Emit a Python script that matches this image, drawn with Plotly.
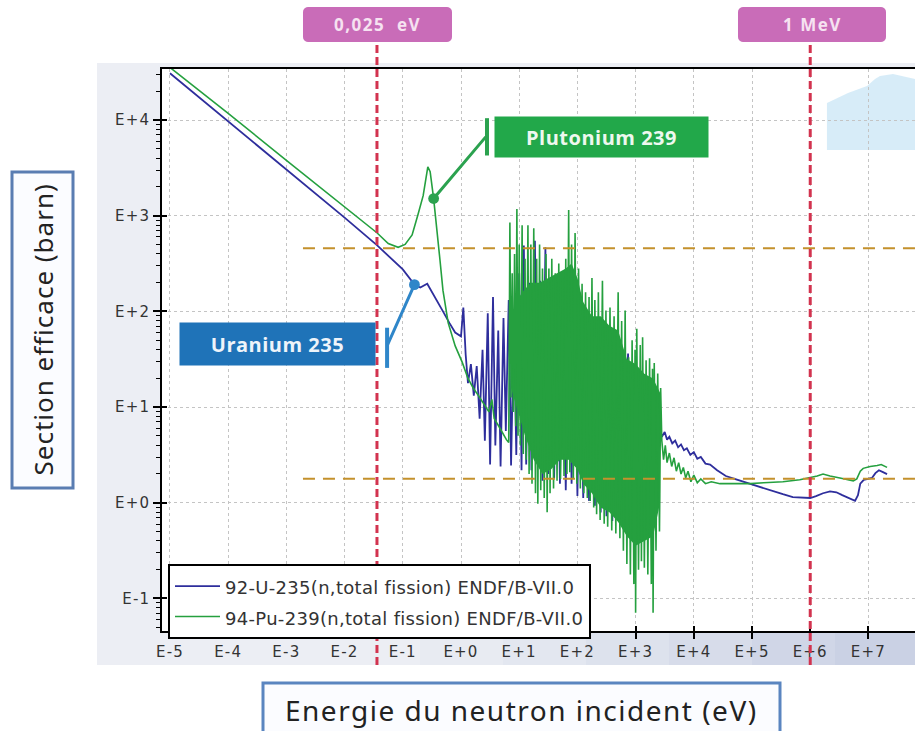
import numpy as np
import plotly.graph_objects as go

# ---------------- data (log10 E [eV], log10 sigma [barn]) ----------------
u235_logE = [-5.0, -4.0, -3.0, -2.0, -1.44, -1.0, -0.8, -0.7, -0.58, -0.5, -0.4, -0.3, -0.2, -0.1, 0.0,
             0.04, 0.08, 0.12, 0.17, 0.22, 0.27, 0.32, 0.37, 0.41, 0.46, 0.50, 0.55, 0.59, 0.64, 0.68,
             0.73, 0.77, 0.82, 0.86, 0.91, 0.95, 1.00, 1.04, 1.08, 1.12, 1.17, 1.21, 1.27, 1.31, 1.36,
             1.40, 1.45, 1.50, 1.55, 1.60, 1.65, 1.70, 1.75, 1.80, 1.85, 1.90, 1.95, 2.00, 2.05, 2.10,
             2.15, 2.20, 2.25, 2.30, 2.35, 2.40, 2.45, 2.50, 2.55, 2.60, 2.65, 2.70, 2.75, 2.80, 2.87,
             2.93, 3.00, 3.05, 3.12, 3.18, 3.25, 3.32, 3.38,
             3.42, 3.46, 3.50, 3.54, 3.58, 3.63, 3.68, 3.73, 3.78, 3.83, 3.88, 3.94, 4.00, 4.06, 4.12,
             4.20, 4.28, 4.40, 4.55, 4.70, 4.85, 4.97, 5.10, 5.26, 5.40, 5.53, 5.70, 5.88, 6.00, 6.10,
             6.22, 6.34, 6.45, 6.55, 6.68, 6.77, 6.82, 6.86, 6.92, 7.00, 7.06, 7.12, 7.18, 7.25, 7.32]
u235_logS = [4.49, 3.99, 3.48, 2.98, 2.69, 2.44, 2.28, 2.25, 2.29, 2.20, 2.09, 1.99, 1.88, 1.78, 1.74,
             2.04, 1.55, 1.25, 1.45, 1.12, 1.43, 0.88, 1.60, 0.65, 1.98, 0.40, 2.15, 0.60, 1.80, 0.38,
             1.93, 0.75, 2.12, 0.39, 1.90, 0.50, 2.40, 0.34, 2.69, 0.40, 2.30, 0.34, 2.74, 0.54, 2.32,
             0.23, 2.67, 0.30, 2.17, 0.25, 2.27, 0.20, 2.06, 0.13, 2.10, 0.20, 2.01, 0.07, 1.91, 0.05,
             1.80, 0.02, 1.70, -0.03, 1.64, -0.10, 1.60, -0.14, 1.54, -0.19, 1.50, -0.10, 1.47, 0.00, 1.56,
             0.10, 1.40, 0.40, 1.20, 0.60, 1.00, 0.78, 0.80,
             0.73, 0.70, 0.74, 0.66, 0.69, 0.62, 0.65, 0.58, 0.61, 0.55, 0.57, 0.50, 0.53, 0.46, 0.48,
             0.41, 0.40, 0.34, 0.28, 0.25, 0.22, 0.20, 0.17, 0.14, 0.11, 0.09, 0.06, 0.05, 0.05, 0.07,
             0.10, 0.12, 0.11, 0.08, 0.04, 0.02, 0.08, 0.20, 0.24, 0.25, 0.26, 0.31, 0.34, 0.32, 0.30]

pu239_logE = [-5.0, -4.0, -3.0, -2.0, -1.44, -1.25, -1.08, -0.96, -0.84, -0.74, -0.65, -0.57, -0.53,
              -0.47, -0.41, -0.36, -0.31, -0.22, -0.10, 0.02, 0.12, 0.21, 0.30, 0.40, 0.48, 0.53, 0.57,
              0.65, 0.72, 0.78, 0.82,
              0.84, 0.86, 0.88, 0.90, 0.92, 0.94, 0.96, 0.98, 1.00, 1.02, 1.05, 1.07, 1.10, 1.12, 1.15,
              1.17, 1.20, 1.22, 1.25, 1.28, 1.30, 1.32, 1.35, 1.37, 1.40, 1.43, 1.46, 1.48, 1.51, 1.53,
              1.56, 1.59, 1.62, 1.65, 1.68, 1.71, 1.74, 1.77, 1.80, 1.82, 1.85, 1.87, 1.90, 1.93, 1.96,
              1.99, 2.02, 2.05, 2.08, 2.11, 2.14, 2.17, 2.20, 2.22, 2.25, 2.28, 2.30, 2.33, 2.36, 2.39,
              2.43, 2.46, 2.49, 2.52, 2.56, 2.59, 2.63, 2.66, 2.70, 2.73, 2.76, 2.79, 2.82, 2.85, 2.88,
              2.91, 2.94, 2.97, 2.99, 3.00, 3.02, 3.05, 3.08, 3.10, 3.12, 3.15, 3.18, 3.21, 3.24, 3.27,
              3.29, 3.30, 3.32, 3.35, 3.38, 3.41, 3.43,
              3.45, 3.48, 3.51, 3.54, 3.58, 3.62, 3.66, 3.70, 3.74, 3.78, 3.82, 3.86, 3.90, 3.95, 4.00,
              4.06, 4.12, 4.20, 4.30, 4.45, 4.60, 4.80, 4.97, 5.20, 5.53, 5.82, 6.00, 6.12, 6.22, 6.34,
              6.51, 6.65, 6.74, 6.80, 6.86, 6.91, 7.03, 7.15, 7.22, 7.32]
pu239_logS = [4.55, 4.07, 3.58, 3.09, 2.82, 2.71, 2.67, 2.70, 2.80, 3.01, 3.21, 3.51, 3.46,
              3.18, 2.85, 2.53, 2.22, 1.88, 1.64, 1.47, 1.30, 1.20, 1.12, 1.02, 0.95, 1.08, 0.88,
              0.80, 0.72, 0.66, 0.63,
              2.93, 1.10, 2.40, 0.95, 2.60, 0.80, 3.07, 0.70, 2.70, 0.60, 2.90, 0.51, 2.55, 0.45, 2.90,
              0.30, 2.70, 0.20, 2.87, 0.10, 2.55, -0.01, 2.70, 0.13, 2.45, 0.05, 2.60, -0.10, 2.45, 0.10,
              2.55, 0.15, 2.40, 0.23, 2.50, 0.25, 2.35, 0.28, 2.55, 0.30, 3.06, 0.32, 2.70, 0.25, 2.82,
              0.20, 2.45, 0.15, 2.29, 0.10, 2.20, 0.05, 2.15, 0.02, 2.35, -0.05, 2.12, -0.12, 2.20, -0.18,
              2.32, -0.22, 2.01, -0.25, 2.04, -0.29, 1.95, -0.32, 2.20, -0.37, 1.90, -0.50, 2.01, -0.64, 1.52,
              -0.75, 1.70, -0.85, 1.60, -1.15, 1.82, -0.70, 1.65, -0.61, 1.73, -0.68, 1.49, -0.75, 1.51, -0.85,
              1.40, -1.15, 1.46, -0.50, 1.35, -0.30, 1.20,
              0.65, 0.45, 0.60, 0.42, 0.52, 0.38, 0.47, 0.33, 0.42, 0.30, 0.37, 0.26, 0.33, 0.22, 0.29,
              0.21, 0.25, 0.20, 0.22, 0.20, 0.20, 0.20, 0.20, 0.21, 0.22, 0.24, 0.26, 0.28, 0.30, 0.28,
              0.26, 0.24, 0.23, 0.25, 0.33, 0.36, 0.38, 0.39, 0.40, 0.37]

# dense body of the Pu-239 resonance region: top edge then bottom edge
pu_body_logE = [0.86, 0.95, 1.05, 1.20, 1.35, 1.50, 1.65, 1.80, 1.90, 2.00, 2.10, 2.25, 2.40, 2.55,
                2.70, 2.85, 3.00, 3.15, 3.30, 3.42,
                3.42, 3.30, 3.15, 3.00, 2.85, 2.70, 2.55, 2.40, 2.25, 2.10, 2.00, 1.85, 1.70, 1.55,
                1.40, 1.25, 1.10, 0.95, 0.86]
pu_body_logS = [1.60, 2.10, 2.20, 2.30, 2.30, 2.35, 2.40, 2.45, 2.50, 2.35, 2.10, 1.95, 1.95, 1.85,
                1.80, 1.50, 1.45, 1.35, 1.30, 1.15,
                0.00, -0.35, -0.40, -0.45, -0.35, -0.20, -0.10, -0.05, 0.10, 0.20, 0.35, 0.45, 0.45, 0.35,
                0.30, 0.45, 0.70, 1.00, 1.20]

x_tick_exp = list(range(-5, 8))
y_tick_exp = list(range(-1, 5))
x_tick_text = ["E%+d" % e for e in x_tick_exp]
y_tick_text = ["E%+d" % e for e in y_tick_exp]

ref_energies = [0.036, 1.0e6]          # vertical markers (as drawn)
ref_labels = ["0,025&nbsp; eV", "1 MeV"]
ref_sigmas = [457.0, 1.78]             # horizontal dashed guides
U_NAME = "92-U-235(n,total fission) ENDF/B-VII.0"
PU_NAME = "94-Pu-239(n,total fission) ENDF/B-VII.0"

# ---------------- figure ----------------
W, H = 915, 731
ML, MR, MT, MB = 162, 0, 69, 100
PW, PH = W - ML - MR, H - MT - MB
XR = [-5.137, 7.80]
YR = [-1.34, 4.534]


def pxx(p):
    return (p - ML) / PW


def pxy(p):
    return (H - MB - p) / PH


def spaced(t, ls=1.2):
    return '<span style="letter-spacing:%spx">%s</span>' % (ls, t)


def rounded_rect(x0, y0, x1, y1, r):
    pts = []
    n = 5
    corners = [(x1 - r, y0 + r, -90, 0), (x1 - r, y1 - r, 0, 90),
               (x0 + r, y1 - r, 90, 180), (x0 + r, y0 + r, 180, 270)]
    for cx, cy, a0, a1 in corners:
        for k in range(n + 1):
            a = np.radians(a0 + (a1 - a0) * k / n)
            pts.append((cx + r * np.cos(a), cy + r * np.sin(a)))
    return "M " + " L ".join("%.5f,%.5f" % (pxx(a), pxy(b)) for a, b in pts) + " Z"


legend_name = '<span style="font-size:18px;letter-spacing:0.3px">%s</span>'

fig = go.Figure()
fig.add_trace(go.Scatter(
    x=10 ** np.array(u235_logE), y=10 ** np.array(u235_logS), mode="lines",
    line=dict(color="#2e2e9c", width=1.8), name=legend_name % U_NAME))
fig.add_trace(go.Scatter(
    x=10 ** np.array(pu_body_logE), y=10 ** np.array(pu_body_logS), mode="lines",
    fill="toself", fillcolor="#25a03f", line=dict(width=0, color="#25a03f"),
    showlegend=False, hoverinfo="skip"))
fig.add_trace(go.Scatter(
    x=10 ** np.array(pu239_logE), y=10 ** np.array(pu239_logS), mode="lines",
    line=dict(color="#25a03f", width=1.6), name=legend_name % PU_NAME))
# overlay axes carry the inward half of the ticks
fig.add_trace(go.Scatter(x=[], y=[], xaxis="x2", yaxis="y2", showlegend=False))

tickfont = dict(family="DejaVu Sans", size=15, color="#333333")
fig.update_layout(
    width=W, height=H,
    margin=dict(l=ML, r=MR, t=MT, b=MB),
    paper_bgcolor="white", plot_bgcolor="rgba(0,0,0,0)",
    showlegend=True,
    legend=dict(x=pxx(168), y=pxy(564), xanchor="left", yanchor="top",
                bgcolor="white", bordercolor="black", borderwidth=2,
                font=dict(family="DejaVu Sans", size=21, color="#333333"),
                itemwidth=45),
    xaxis=dict(type="log", range=XR, tickmode="array",
               tickvals=[10.0 ** e for e in x_tick_exp], ticktext=[spaced(t) for t in x_tick_text],
               ticks="outside", ticklen=6, tickwidth=1.5, tickcolor="black",
               showline=True, linecolor="black", linewidth=1.5, mirror=True,
               showgrid=True, gridcolor="#c4c4c4", griddash="dot", gridwidth=1,
               zeroline=False, tickfont=tickfont),
    yaxis=dict(type="log", range=YR, tickmode="array",
               tickvals=[10.0 ** e for e in y_tick_exp], ticktext=[spaced(t) for t in y_tick_text],
               ticks="outside", ticklen=7, tickwidth=1.5, tickcolor="black",
               showline=True, linecolor="black", linewidth=1.5, mirror=False,
               showgrid=True, gridcolor="#c4c4c4", griddash="dot", gridwidth=1,
               zeroline=False, tickfont=tickfont,
               minor=dict(tickmode="array",
                          tickvals=[m * 10.0 ** e for e in range(-2, 5) for m in range(2, 10)],
                          ticks="outside", ticklen=4, tickwidth=1.2, tickcolor="black",
                          showgrid=False)),
    xaxis2=dict(type="log", range=XR, overlaying="x", anchor="y", side="bottom",
                tickmode="array", tickvals=[10.0 ** e for e in x_tick_exp],
                ticks="inside", ticklen=5, tickwidth=1.5, tickcolor="black",
                showticklabels=False, showgrid=False, showline=False, zeroline=False),
    yaxis2=dict(type="log", range=YR, overlaying="y", anchor="x", side="left",
                tickmode="array", tickvals=[10.0 ** e for e in y_tick_exp],
                ticks="inside", ticklen=5, tickwidth=1.5, tickcolor="black",
                showticklabels=False, showgrid=False, showline=False, zeroline=False),
)

shapes = []
# light panel behind the chart
shapes.append(dict(type="rect", xref="paper", yref="paper", x0=pxx(97), x1=pxx(915),
                   y0=pxy(665), y1=pxy(63), fillcolor="#eceef4", line=dict(width=0), layer="below"))
band_cols = ["#e8ebf2", "#e3e7f0", "#dde2ed", "#d7dcea", "#d0d6e7", "#cad1e4"]
for i, c in enumerate(band_cols):
    x0 = 420 + i * 83
    shapes.append(dict(type="rect", xref="paper", yref="paper", x0=pxx(x0), x1=pxx(min(x0 + 83, 915)),
                       y0=pxy(665), y1=pxy(631), fillcolor=c, line=dict(width=0), layer="below"))
shapes.append(dict(type="rect", xref="paper", yref="paper", x0=0, x1=1, y0=0, y1=1,
                   fillcolor="white", line=dict(width=0), layer="below"))
# faint watermark
wm = [(827, 150), (827, 103), (848, 93), (867, 86), (875, 79), (880, 76), (893, 74), (915, 79), (915, 150)]
path = "M " + " L ".join("%.4f,%.4f" % (pxx(a), pxy(b)) for a, b in wm) + " Z"
shapes.append(dict(type="path", xref="paper", yref="paper", path=path,
                   fillcolor="#d3eaf7", line=dict(width=0), layer="below", opacity=0.9))
# horizontal dashed guides
for s in ref_sigmas:
    shapes.append(dict(type="line", xref="x", yref="y", x0=10 ** -2.715, x1=10 ** XR[1], y0=s, y1=s,
                       line=dict(color="#c4912c", width=2, dash="12px,8px"), layer="above"))
# vertical red markers
for e in ref_energies:
    shapes.append(dict(type="line", xref="x", yref="paper", x0=e, x1=e, y0=pxy(665), y1=pxy(42),
                       line=dict(color="#d2334f", width=3, dash="8px,4px"), layer="above"))
# rounded pink label boxes
for bx0, bx1 in [(303, 452), (738, 886)]:
    shapes.append(dict(type="path", xref="paper", yref="paper", path=rounded_rect(bx0, 7, bx1, 42, 5),
                       fillcolor="#c96cb8", line=dict(width=0), layer="above"))
# annotation connector bars
shapes.append(dict(type="line", xref="x", yref="y", x0=10 ** 0.447, x1=10 ** 0.447,
                   y0=10 ** 3.63, y1=10 ** 4.02, line=dict(color="#2ba24f", width=4), layer="above"))
shapes.append(dict(type="line", xref="x", yref="y", x0=10 ** -1.27, x1=10 ** -1.27,
                   y0=10 ** 1.41, y1=10 ** 1.83, line=dict(color="#2f86c9", width=4), layer="above"))
# axis title boxes
shapes.append(dict(type="rect", xref="paper", yref="paper", x0=pxx(12), x1=pxx(73),
                   y0=pxy(488), y1=pxy(172), fillcolor="#fbfcff",
                   line=dict(color="#5a7db2", width=3)))
shapes.append(dict(type="rect", xref="paper", yref="paper", x0=pxx(263), x1=pxx(780),
                   y0=pxy(745), y1=pxy(683), fillcolor="#fbfcff",
                   line=dict(color="#5a85c0", width=3)))
fig.update_layout(shapes=shapes)

ann = []
# connectors with dots (annotation coordinates on log axes are log10 values)
ann.append(dict(x=-0.47, y=3.18, ax=0.447, ay=3.84, xref="x", yref="y", axref="x", ayref="y",
                text="", showarrow=True, arrowhead=6, arrowsize=0.9, arrowwidth=3,
                arrowcolor="#2ba24f", standoff=0))
ann.append(dict(x=-0.80, y=2.28, ax=-1.27, ay=1.64, xref="x", yref="y", axref="x", ayref="y",
                text="", showarrow=True, arrowhead=6, arrowsize=0.9, arrowwidth=3,
                arrowcolor="#2f86c9", standoff=0))
common = dict(xref="paper", yref="paper", xanchor="center", yanchor="middle", showarrow=False)
# label boxes
ann.append(dict(x=pxx(601.5), y=pxy(137), text='<b>%s</b>' % spaced("Plutonium 239", 0.5),
                bgcolor="#22a84a", width=213, height=40, borderpad=0,
                font=dict(family="Open Sans", size=20, color="#eef8ef"), **common))
ann.append(dict(x=pxx(277.5), y=pxy(344), text='<b>%s</b>' % spaced("Uranium 235", 0.5),
                bgcolor="#1f73b8", width=195, height=42, borderpad=0,
                font=dict(family="Open Sans", size=20, color="#eef4fa"), **common))
for lab, cx in zip(ref_labels, [377.5, 812]):
    ann.append(dict(x=pxx(cx), y=pxy(24.5), text='<b>%s</b>' % spaced(lab, 1.5),
                    font=dict(family="Open Sans", size=17, color="#f6e2f1"), **common))
# axis titles
ann.append(dict(x=pxx(42.5), y=pxy(330), text=spaced("Section efficace (barn)", 1.0), textangle=-90,
                font=dict(family="Noto Sans", size=26, color="#222222"), **common))
ann.append(dict(x=pxx(521), y=pxy(710), text=spaced("Energie du neutron incident (eV)", 1.5),
                font=dict(family="Noto Sans", size=28, color="#222222"), **common))
fig.update_layout(annotations=ann)

fig.write_html("out.html", post_script="document.body.style.margin='0';",
               config={"displayModeBar": False})
